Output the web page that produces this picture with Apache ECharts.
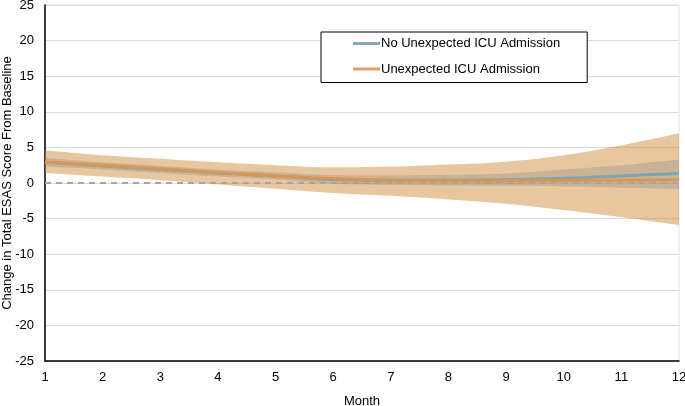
<!DOCTYPE html>
<html>
<head>
<meta charset="utf-8">
<script src="https://cdn.jsdelivr.net/npm/echarts@6/dist/echarts.min.js"></script>
<style>html,body{margin:0;padding:0;background:#fff}#c{width:685px;height:406px}</style>
</head>
<body>
<div id="c"></div>
<script>
const months = ['1','2','3','4','5','6','7','8','9','10','11','12'];
const yTicks = [-25,-20,-15,-10,-5,0,5,10,15,20,25];
const seriesNames = ['No Unexpected ICU Admission','Unexpected ICU Admission'];

const noIcuMean  = [2.9, 2.4, 1.9, 1.4, 1.0, 0.5, 0.4, 0.4, 0.45, 0.65, 1.0, 1.35];
const noIcuUpper = [3.5, 2.9, 2.4, 1.9, 1.5, 1.1, 1.05, 1.15, 1.35, 1.9, 2.5, 3.3];
const noIcuLower = [2.3, 1.9, 1.4, 0.9, 0.5, -0.1, -0.25, -0.35, -0.4, -0.5, -0.65, -0.85];

const icuMean  = [2.9, 2.5, 2.0, 1.45, 1.0, 0.6, 0.4, 0.3, 0.3, 0.35, 0.4, 0.45];
const icuUpper = [4.6, 3.9, 3.4, 2.9, 2.5, 2.2, 2.3, 2.6, 3.0, 3.9, 5.3, 7.0];
const icuLower = [1.4, 0.9, 0.4, -0.2, -0.8, -1.4, -1.8, -2.3, -2.9, -3.8, -4.8, -5.9];

const baseline = 0;

const diff = (a, b) => a.map((v, i) => +(v - b[i]).toFixed(3));

const chart = echarts.init(document.getElementById('c'), null, {renderer: 'canvas'});
const font = 'Liberation Sans, Arial, sans-serif';
const fs = 13;

chart.setOption({
  animation: false,
  backgroundColor: '#fff',
  textStyle: {fontFamily: font},
  grid: {left: 45, right: 6, top: 5, bottom: 45, containLabel: false, outerBoundsMode: 'none',
    show: true, borderColor: '#e4e4e4', borderWidth: 1, backgroundColor: 'transparent'},
  legend: {
    data: seriesNames,
    orient: 'vertical',
    left: 321, top: 32,
    borderColor: '#000', borderWidth: 1, borderRadius: 0,
    padding: [5, 27, 7, 32],
    itemGap: 12.5,
    itemWidth: 27, itemHeight: 3,
    icon: 'rect',
    textStyle: {fontSize: fs, color: '#000', fontFamily: font, padding: [0,0,0,-4]},
    backgroundColor: '#fff'
  },
  xAxis: {
    type: 'category',
    data: months,
    boundaryGap: false,
    name: 'Month',
    nameLocation: 'middle',
    nameGap: 34,
    nameMoveOverlap: false,
    nameTextStyle: {fontSize: fs, color: '#000', fontFamily: font},
    axisLine: {onZero: false, lineStyle: {color: '#000', width: 1.5}},
    axisTick: {show: false},
    axisLabel: {fontSize: fs, color: '#000', margin: 10, fontFamily: font},
    splitLine: {show: false}
  },
  yAxis: {
    type: 'value',
    min: -25, max: 25, interval: 5,
    name: 'Change in Total ESAS Score From Baseline',
    nameLocation: 'middle',
    nameGap: 31,
    nameMoveOverlap: false,
    nameTextStyle: {fontSize: fs, color: '#000', fontFamily: font},
    axisLine: {show: true, onZero: false, lineStyle: {color: '#000', width: 1.5}},
    axisTick: {show: false},
    axisLabel: {fontSize: fs, color: '#000', margin: 11, fontFamily: font,
      formatter: v => yTicks.includes(v) ? String(v) : ''},
    splitLine: {lineStyle: {color: '#dcdcdc', width: 1}}
  },
  series: [
    {name: 'icuLowerBase', type: 'line', stack: 'icu', stackStrategy: 'all', data: icuLower, smooth: 0.4,
     symbol: 'none', lineStyle: {opacity: 0}, silent: true, z: 1},
    {name: 'icuBand', type: 'line', stack: 'icu', stackStrategy: 'all', data: diff(icuUpper, icuLower), smooth: 0.4,
     symbol: 'none', lineStyle: {opacity: 0}, areaStyle: {color: 'rgba(205,130,45,0.46)', opacity: 1}, silent: true, z: 1},
    {name: 'noLowerBase', type: 'line', stack: 'no', stackStrategy: 'all', data: noIcuLower, smooth: 0.4,
     symbol: 'none', lineStyle: {opacity: 0}, silent: true, z: 2},
    {name: 'noBand', type: 'line', stack: 'no', stackStrategy: 'all', data: diff(noIcuUpper, noIcuLower), smooth: 0.4,
     symbol: 'none', lineStyle: {opacity: 0}, areaStyle: {color: 'rgba(130,135,130,0.3)', opacity: 1}, silent: true, z: 2},
    {name: 'zero', type: 'line', data: [], symbol: 'none', silent: true, z: 3,
     markLine: {silent: true, symbol: 'none', label: {show: false},
       lineStyle: {color: '#a6a6a6', type: [6, 5], width: 2},
       data: [{yAxis: baseline}]}},
    {name: seriesNames[0], type: 'line', data: noIcuMean, smooth: 0.4, symbol: 'none',
     color: '#86a8b2', lineStyle: {color: '#7fa5b0', width: 3}, z: 4},
    {name: seriesNames[1], type: 'line', data: icuMean, smooth: 0.4, symbol: 'none',
     color: '#dfa066', lineStyle: {color: '#dc9552', width: 3}, z: 5}
  ]
});
</script>
</body>
</html>
